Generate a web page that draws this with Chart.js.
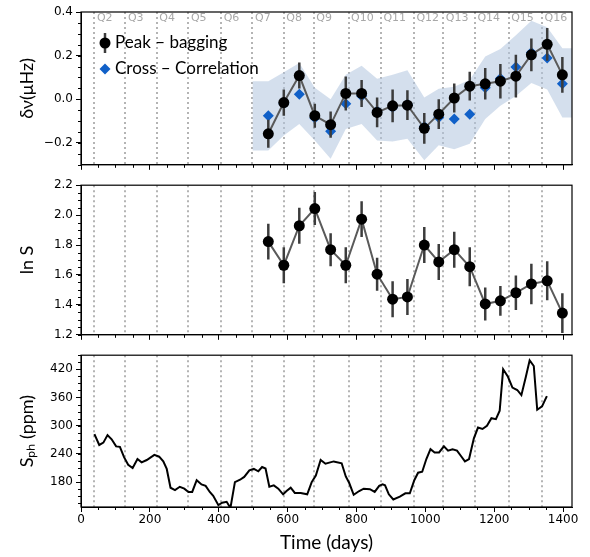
<!DOCTYPE html>
<html>
<head>
<meta charset="utf-8">
<script src="https://cdn.jsdelivr.net/npm/chart.js@4/dist/chart.umd.min.js"></script>
<style>
  body { margin: 0; background: #fff; }
  #wrap { position: relative; width: 590px; height: 557px; }
  canvas { position: absolute; left: 0; }
</style>
</head>
<body>
<div id="wrap">
  <canvas id="freqShift" width="590" height="175" style="top:0"></canvas>
  <canvas id="lnS" width="590" height="170" style="top:175px"></canvas>
  <canvas id="sph" width="590" height="212" style="top:345px"></canvas>
</div>
<script>
// quarter boundaries (days) and their names
const quarterDays = [39, 129, 220, 312, 407, 498, 589, 676, 777, 871, 967, 1052, 1144, 1242, 1339];
const quarterLabels = ["Q2", "Q3", "Q4", "Q5", "Q6", "Q7", "Q8", "Q9", "Q10", "Q11", "Q12", "Q13", "Q14", "Q15", "Q16"];

const xTicks = [0, 200, 400, 600, 800, 1000, 1200, 1400];

// top panel: frequency shifts
const segmentDays = [544, 589, 634, 679, 725, 769, 815, 860, 905, 948, 997, 1039, 1084, 1129, 1174, 1218, 1263, 1308, 1354, 1398];
const peakShift = [-0.158, -0.015, 0.109, -0.075, -0.116, 0.027, 0.027, -0.060, -0.030, -0.027, -0.133, -0.068, 0.006, 0.060, 0.071, 0.083, 0.106, 0.204, 0.252, 0.112];
const peakShiftErr = [0.064, 0.060, 0.060, 0.055, 0.060, 0.078, 0.062, 0.068, 0.075, 0.068, 0.070, 0.068, 0.066, 0.066, 0.072, 0.079, 0.098, 0.075, 0.075, 0.082];
const ccShift = [-0.075, -0.020, 0.023, -0.086, -0.146, -0.020, 0.015, -0.053, -0.038, -0.023, -0.125, -0.083, -0.090, -0.068, 0.053, 0.095, 0.148, 0.214, 0.189, 0.071];
const bandDays = [498, 544, 589, 634, 679, 725, 769, 815, 860, 905, 948, 997, 1039, 1084, 1129, 1174, 1218, 1263, 1308, 1354, 1398, 1426];
const bandUpper = [0.083, 0.083, 0.124, 0.166, 0.053, 0.0, 0.113, 0.154, 0.094, 0.113, 0.133, 0.008, 0.048, 0.057, 0.090, 0.196, 0.230, 0.294, 0.360, 0.330, 0.234, 0.234];
const bandLower = [-0.234, -0.234, -0.166, -0.113, -0.189, -0.272, -0.136, -0.113, -0.189, -0.193, -0.181, -0.279, -0.211, -0.229, -0.204, -0.090, -0.030, 0.015, 0.075, 0.045, -0.083, -0.083];
const shiftTicks = [-0.2, 0.0, 0.2, 0.4];

// middle panel: ln S
const lnS = [1.823, 1.665, 1.929, 2.044, 1.769, 1.665, 1.973, 1.605, 1.438, 1.453, 1.800, 1.687, 1.769, 1.655, 1.406, 1.427, 1.481, 1.540, 1.561, 1.345];
const lnSErr = [0.12, 0.12, 0.12, 0.11, 0.11, 0.12, 0.12, 0.11, 0.12, 0.12, 0.12, 0.12, 0.12, 0.13, 0.11, 0.10, 0.115, 0.135, 0.13, 0.133];
const lnSTicks = [1.2, 1.4, 1.6, 1.8, 2.0, 2.2];

// bottom panel: photometric activity proxy
const sphDays = [39, 53, 65, 77, 89, 102, 113, 125, 137, 150, 164, 176, 191, 213, 227, 239, 249, 260, 273, 287,
  300, 312, 323, 336, 350, 362, 374, 384, 399, 410, 423, 434, 447, 462, 474, 489, 502, 515, 526, 536,
  547, 560, 573, 587, 597, 609, 621, 638, 657, 670, 682, 696, 710, 734, 757, 769, 779, 792, 808, 821,
  839, 853, 866, 876, 883, 894, 907, 926, 942, 955, 968, 979, 991, 1003, 1015, 1027, 1040, 1054, 1066, 1079,
  1092, 1103, 1115, 1127, 1141, 1153, 1166, 1179, 1192, 1205, 1216, 1226, 1240, 1253, 1267, 1279, 1292, 1303, 1315, 1325,
  1339, 1353];
const sphValues = [282, 259, 264, 280, 271, 256, 255, 233, 217, 210, 229, 222, 227, 238, 234, 224, 208, 168, 163, 170,
  166, 159, 159, 184, 175, 172, 159, 151, 131, 136, 138, 125, 180, 185, 191, 205, 208, 203, 212, 209,
  170, 173, 166, 154, 161, 168, 157, 157, 154, 180, 194, 227, 219, 224, 220, 192, 178, 153, 161, 166,
  165, 159, 172, 175, 173, 154, 143, 149, 156, 156, 184, 200, 202, 229, 250, 243, 243, 256, 247, 250,
  247, 236, 224, 229, 273, 296, 293, 300, 316, 314, 332, 420, 404, 381, 376, 365, 404, 439, 427, 334,
  341, 363];
const sphTicks = [180, 240, 300, 360, 420];

const xy = (xs, ys) => xs.map((x, i) => ({ x: x, y: ys[i] }));
const tickFont = { family: "DejaVu Sans", size: 12 };
const titleFont = { family: "Lato", size: 18 };

// dotted quarter lines, Q labels, closed frame and minor ticks
const frameGuides = {
  id: "frameGuides",
  beforeDatasetsDraw(chart) {
    const { ctx, chartArea: a, scales } = chart;
    const opts = chart.options.plugins.frameGuides;
    ctx.save();
    ctx.strokeStyle = "#b4b4b4";
    ctx.lineWidth = 2;
    ctx.setLineDash([2, 3]);
    quarterDays.forEach((d) => {
      const px = Math.round(scales.x.getPixelForValue(d));
      ctx.beginPath();
      ctx.moveTo(px, a.top);
      ctx.lineTo(px, a.bottom);
      ctx.stroke();
    });
    ctx.restore();
    if (opts.qLabels) {
      ctx.save();
      ctx.fillStyle = "#a8a8a8";
      ctx.font = "11px 'DejaVu Sans'";
      ctx.textBaseline = "middle";
      quarterDays.forEach((d, i) => {
        ctx.fillText(quarterLabels[i], scales.x.getPixelForValue(d) + 2.5, a.top + 6.5);
      });
      ctx.restore();
    }
  },
  afterDraw(chart) {
    const { ctx, chartArea: a, scales } = chart;
    const opts = chart.options.plugins.frameGuides;
    ctx.save();
    ctx.strokeStyle = "#000";
    ctx.lineWidth = 1;
    ctx.beginPath();
    for (let v = 0; v <= scales.x.max; v += 50) {
      if (v % 200 === 0) continue;
      const px = Math.round(scales.x.getPixelForValue(v)) + 0.5;
      ctx.moveTo(px, a.bottom);
      ctx.lineTo(px, a.bottom + 3);
    }
    const yMin = scales.y.min, yMax = scales.y.max;
    for (let v = opts.minorStart; v <= yMax + 1e-9; v += opts.minorStep) {
      if (v < yMin - 1e-9) continue;
      const py = Math.round(scales.y.getPixelForValue(v)) + 0.5;
      ctx.moveTo(a.left, py);
      ctx.lineTo(a.left - 3, py);
    }
    ctx.stroke();
    ctx.lineWidth = 1.2;
    ctx.strokeRect(a.left, a.top, a.right - a.left, a.bottom - a.top);
    ctx.restore();
  },
};

// vertical error bars drawn just before the dataset that owns them
const errorBars = {
  id: "errorBars",
  beforeDatasetDraw(chart, args) {
    const ds = chart.data.datasets[args.index];
    if (!ds.errors) return;
    const { ctx, scales } = chart;
    ctx.save();
    ctx.strokeStyle = "#3c3c3c";
    ctx.lineWidth = 2.5;
    ctx.beginPath();
    ds.data.forEach((p, i) => {
      const px = scales.x.getPixelForValue(p.x);
      ctx.moveTo(px, scales.y.getPixelForValue(p.y - ds.errors[i]));
      ctx.lineTo(px, scales.y.getPixelForValue(p.y + ds.errors[i]));
    });
    ctx.stroke();
    ctx.restore();
  },
};

// legend inside the top panel
const innerLegend = {
  id: "innerLegend",
  afterDatasetsDraw(chart) {
    if (!chart.options.plugins.innerLegend) return;
    const { ctx, chartArea: a } = chart;
    const mx = a.left + 24;
    const y1 = a.top + 31;
    const y2 = a.top + 57;
    ctx.save();
    ctx.strokeStyle = "#3c3c3c";
    ctx.lineWidth = 2.5;
    ctx.beginPath();
    ctx.moveTo(mx, y1 - 10);
    ctx.lineTo(mx, y1 + 10);
    ctx.stroke();
    ctx.fillStyle = "#000";
    ctx.beginPath();
    ctx.arc(mx, y1, 5.5, 0, Math.PI * 2);
    ctx.fill();
    ctx.fillStyle = "#1060c8";
    ctx.beginPath();
    ctx.moveTo(mx, y2 - 5.5);
    ctx.lineTo(mx + 5.5, y2);
    ctx.lineTo(mx, y2 + 5.5);
    ctx.lineTo(mx - 5.5, y2);
    ctx.closePath();
    ctx.fill();
    ctx.fillStyle = "#000";
    ctx.font = "17px Lato";
    ctx.textBaseline = "middle";
    ctx.fillText("Peak – bagging", a.left + 34, y1);
    ctx.fillText("Cross – Correlation", a.left + 34, y2);
    ctx.restore();
  },
};

function xScale(height, showLabels, title) {
  return {
    type: "linear",
    min: 0,
    max: 1426,
    afterBuildTicks: (s) => { s.ticks = xTicks.map((v) => ({ value: v })); },
    afterFit: (s) => { s.height = height; },
    grid: { drawOnChartArea: false, drawTicks: true, tickLength: 5, color: "#000" },
    border: { display: true, color: "#000", width: 1 },
    ticks: { display: showLabels, font: tickFont, color: "#000", padding: 1, maxRotation: 0, callback: (v) => String(v) },
    title: title
      ? { display: true, text: title, font: { family: "Lato", size: 19 }, color: "#000", padding: { top: 0, bottom: 3 } }
      : { display: false },
  };
}

function yScale(min, max, ticks, fmt, title) {
  return {
    type: "linear",
    min: min,
    max: max,
    afterBuildTicks: (s) => { s.ticks = ticks.map((v) => ({ value: v })); },
    afterFit: (s) => { s.width = 81; },
    grid: { drawOnChartArea: false, drawTicks: true, tickLength: 5, color: "#000" },
    border: { display: true, color: "#000", width: 1 },
    ticks: { font: tickFont, color: "#000", padding: 3, callback: fmt },
    title: { display: true, text: title, font: titleFont, color: "#000", padding: { top: 16, bottom: 0 } },
  };
}

const common = (padTop, extra) => ({
  responsive: false,
  animation: false,
  layout: { padding: { left: 0, right: 18, top: padTop, bottom: 0 } },
  plugins: Object.assign({ legend: { display: false }, tooltip: { enabled: false } }, extra),
});

new Chart(document.getElementById("freqShift"), {
  type: "line",
  data: {
    datasets: [
      {
        label: "Peak – bagging",
        data: xy(segmentDays, peakShift),
        errors: peakShiftErr,
        borderColor: "#5a5a5a",
        borderWidth: 2,
        pointRadius: 5.5,
        pointBackgroundColor: "#000",
        pointBorderWidth: 0,
        order: 1,
      },
      {
        label: "Cross – Correlation",
        data: xy(segmentDays, ccShift),
        showLine: false,
        pointStyle: "rectRot",
        pointRadius: 5.5,
        pointBackgroundColor: "#1060c8",
        pointBorderWidth: 0,
        order: 2,
      },
      {
        label: "upper",
        data: xy(bandDays, bandUpper),
        borderWidth: 0,
        pointRadius: 0,
        fill: false,
        order: 3,
      },
      {
        label: "lower",
        data: xy(bandDays, bandLower),
        borderWidth: 0,
        pointRadius: 0,
        fill: "-1",
        backgroundColor: "rgba(176,196,222,0.55)",
        order: 3,
      },
    ],
  },
  options: Object.assign(common(12, {
    frameGuides: { qLabels: true, minorStart: -0.3, minorStep: 0.05 },
    innerLegend: true,
  }), {
    scales: {
      x: xScale(9, false, null),
      y: yScale(-0.3, 0.4, shiftTicks, (v) => v.toFixed(1).replace("-", "\u2212"), "δν(μHz)"),
    },
  }),
  plugins: [frameGuides, errorBars, innerLegend],
});

new Chart(document.getElementById("lnS"), {
  type: "line",
  data: {
    datasets: [
      {
        label: "ln S",
        data: xy(segmentDays, lnS),
        errors: lnSErr,
        borderColor: "#5a5a5a",
        borderWidth: 2,
        pointRadius: 5.5,
        pointBackgroundColor: "#000",
        pointBorderWidth: 0,
      },
    ],
  },
  options: Object.assign(common(8, {
    frameGuides: { qLabels: false, minorStart: 1.2, minorStep: 0.05 },
  }), {
    scales: {
      x: xScale(8, false, null),
      y: yScale(1.2, 2.2, lnSTicks, (v) => v.toFixed(1), "ln S"),
    },
  }),
  plugins: [frameGuides, errorBars],
});

new Chart(document.getElementById("sph"), {
  type: "line",
  data: {
    datasets: [
      {
        label: "Sph",
        data: xy(sphDays, sphValues),
        borderColor: "#000",
        borderWidth: 2,
        pointRadius: 0,
        tension: 0,
      },
    ],
  },
  options: Object.assign(common(8, {
    frameGuides: { qLabels: false, minorStart: 135, minorStep: 15 },
  }), {
    scales: {
      x: xScale(50, true, "Time (days)"),
      y: yScale(127, 450, sphTicks, (v) => String(v), "Sₚₕ (ppm)"),
    },
  }),
  plugins: [frameGuides],
});
</script>
</body>
</html>
